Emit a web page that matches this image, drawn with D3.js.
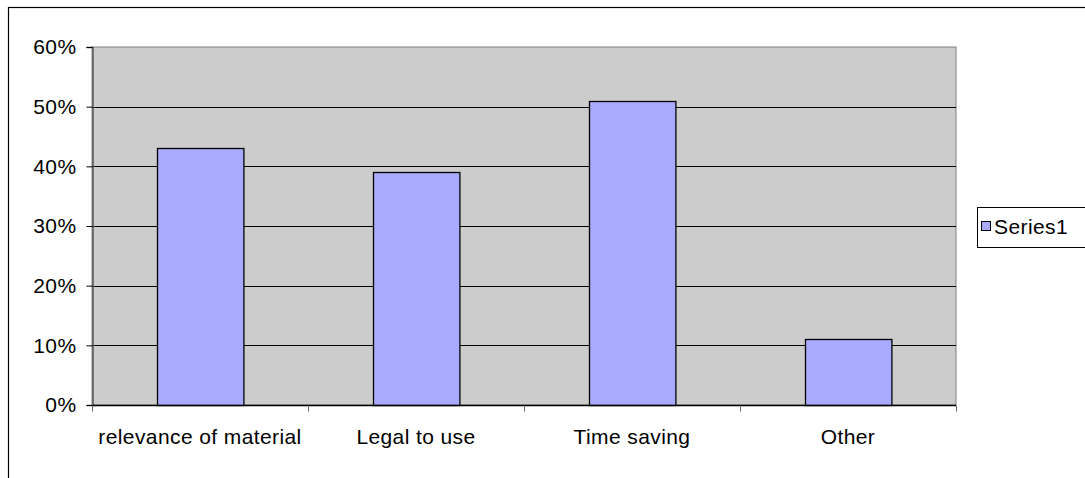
<!DOCTYPE html>
<html>
<head>
<meta charset="utf-8">
<script src="https://cdn.jsdelivr.net/npm/d3@7"></script>
<style>
  html, body { margin: 0; padding: 0; background: #fff; }
  svg { display: block; font-family: Arial, "Liberation Sans", sans-serif; }
  svg text { letter-spacing: 0.4px; }
</style>
</head>
<body>
<svg id="chart" width="1085" height="478"></svg>
<script>
// Share of respondents by reason
const categories = ["relevance of material", "Legal to use", "Time saving", "Other"];
const series1 = [0.43, 0.39, 0.51, 0.11];
const yTicks = [0, 0.1, 0.2, 0.3, 0.4, 0.5, 0.6];
const seriesName = "Series1";

const svg = d3.select("#chart");
const fontSize = 21;

// Outer chart frame
svg.append("rect")
  .attr("x", 8.5).attr("y", 7.5)
  .attr("width", 1100).attr("height", 500)
  .attr("fill", "#fff")
  .attr("stroke", "#000").attr("stroke-width", 1.2);

const plot = { left: 92, right: 956, top: 47, bottom: 405 };

const x = d3.scaleBand()
  .domain(categories)
  .range([plot.left, plot.right])
  .paddingInner(0.6)
  .paddingOuter(0.3);

const xCat = d3.scaleBand()
  .domain(categories)
  .range([plot.left, plot.right]);

const y = d3.scaleLinear()
  .domain([0, 0.6])
  .range([plot.bottom, plot.top]);

// Plot area background
svg.append("rect")
  .attr("x", plot.left).attr("y", plot.top)
  .attr("width", plot.right - plot.left)
  .attr("height", plot.bottom - plot.top)
  .attr("fill", "#cccccc")
  .attr("stroke", "#808080").attr("stroke-width", 1);

// Horizontal gridlines
svg.append("g")
  .selectAll("line")
  .data(yTicks.filter(t => t > 0 && t < 0.6))
  .join("line")
  .attr("x1", plot.left).attr("x2", plot.right)
  .attr("y1", d => Math.round(y(d)) + 0.5)
  .attr("y2", d => Math.round(y(d)) + 0.5)
  .attr("stroke", "#000").attr("stroke-width", 1);

// Bars
svg.append("g")
  .selectAll("rect")
  .data(categories.map((c, i) => ({ c, v: series1[i] })))
  .join("rect")
  .attr("x", d => Math.round(x(d.c)) + 0.5)
  .attr("y", d => Math.round(y(d.v)) + 0.5)
  .attr("width", x.bandwidth())
  .attr("height", d => y(0) - Math.round(y(d.v)))
  .attr("fill", "#aaaaff")
  .attr("stroke", "#000").attr("stroke-width", 1.3);

// Y axis
const yAxis = d3.axisLeft(y)
  .tickValues(yTicks)
  .tickFormat(d3.format(".0%"))
  .tickSize(6)
  .tickPadding(10);

const gy = svg.append("g")
  .attr("transform", `translate(${plot.left + 0.5},0)`)
  .call(yAxis);
gy.select(".domain").attr("stroke", "#555").attr("stroke-width", 1.5);
gy.selectAll(".tick line").attr("stroke", "#000");
gy.selectAll("text")
  .attr("font-size", fontSize)
  .attr("font-family", "Arial, 'Liberation Sans', sans-serif")
  .attr("fill", "#000");

// X axis: ticks at category boundaries, labels centered in each band
const gx = svg.append("g")
  .attr("transform", `translate(0,${plot.bottom + 0.5})`);
gx.append("line")
  .attr("x1", plot.left).attr("x2", plot.right)
  .attr("stroke", "#000").attr("stroke-width", 1.3);
const boundaries = categories.map(c => xCat(c)).concat([plot.right]);
gx.selectAll(".bt")
  .data(boundaries)
  .join("line")
  .attr("class", "bt")
  .attr("x1", d => Math.round(d) + 0.5).attr("x2", d => Math.round(d) + 0.5)
  .attr("y1", 0).attr("y2", 6)
  .attr("stroke", "#666");
gx.selectAll("text")
  .data(categories)
  .join("text")
  .attr("x", d => xCat(d) + xCat.bandwidth() / 2)
  .attr("y", 38)
  .attr("text-anchor", "middle")
  .attr("font-size", fontSize)
  .attr("fill", "#000")
  .text(d => d);

// Legend
const lg = svg.append("g");
lg.append("rect")
  .attr("x", 977.5).attr("y", 207.5)
  .attr("width", 140).attr("height", 40)
  .attr("fill", "#fff")
  .attr("stroke", "#000").attr("stroke-width", 1);
lg.append("rect")
  .attr("x", 981.5).attr("y", 221.5)
  .attr("width", 9).attr("height", 9)
  .attr("fill", "#aaaaff")
  .attr("stroke", "#000").attr("stroke-width", 1);
lg.append("text")
  .attr("x", 994).attr("y", 234)
  .attr("font-size", fontSize)
  .attr("fill", "#000")
  .text(seriesName);
</script>
</body>
</html>
